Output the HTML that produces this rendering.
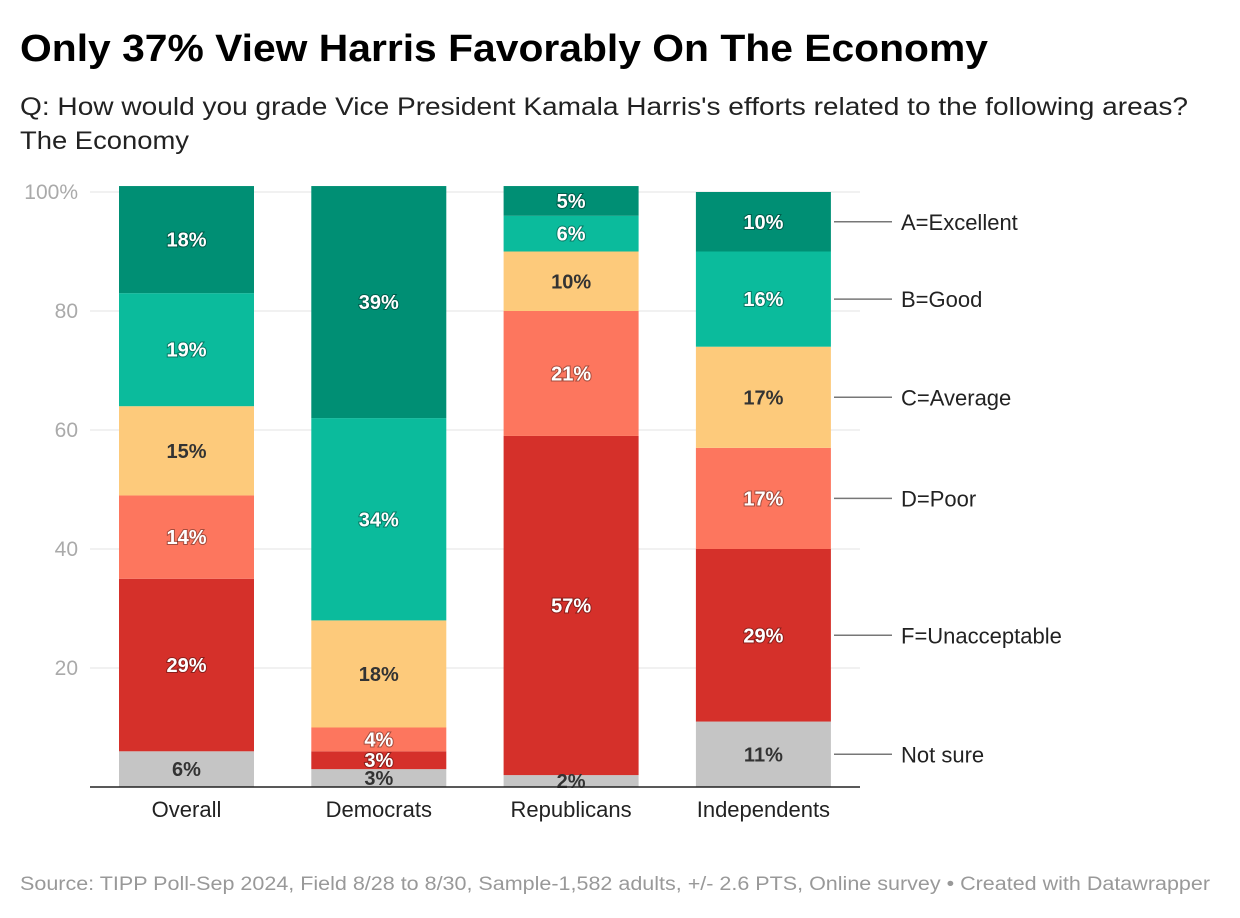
<!DOCTYPE html>
<html><head><meta charset="utf-8"><style>
body{margin:0;background:#fff;font-family:"Liberation Sans",Arial,sans-serif;}
#wrap{position:relative;width:1240px;height:918px;overflow:hidden}
</style></head><body>
<div id="wrap">
<svg id="chart" width="1240" height="918" xmlns="http://www.w3.org/2000/svg">
<text x="20" y="61" font-size="38" font-weight="bold" fill="#000" textLength="968" lengthAdjust="spacingAndGlyphs">Only 37% View Harris Favorably On The Economy</text>
<text x="20" y="115" font-size="25" fill="#222" textLength="1168" lengthAdjust="spacingAndGlyphs">Q: How would you grade Vice President Kamala Harris's efforts related to the following areas?</text>
<text x="20" y="149" font-size="25" fill="#222" textLength="169" lengthAdjust="spacingAndGlyphs">The Economy</text>
<g id="grid"></g><g id="bars"></g><g id="labels"></g><g id="legend"></g>
<text x="20" y="890" font-size="19" fill="#999" textLength="1190" lengthAdjust="spacingAndGlyphs">Source: TIPP Poll-Sep 2024, Field 8/28 to 8/30, Sample-1,582 adults, +/- 2.6 PTS, Online survey • Created with Datawrapper</text>
</svg>
</div>
<script>
const categories=["Overall","Democrats","Republicans","Independents"];
const seriesNames=["Not sure","F=Unacceptable","D=Poor","C=Average","B=Good","A=Excellent"];
const notSure=[6,3,2,11];
const gradeF=[29,3,57,29];
const gradeD=[14,4,21,17];
const gradeC=[15,18,10,17];
const gradeB=[19,34,6,16];
const gradeA=[18,39,5,10];
const yTicks=[0,20,40,60,80,100];
const yTickLabels=["","20","40","60","80","100%"];
const series=[notSure,gradeF,gradeD,gradeC,gradeB,gradeA];
const colors=["#c5c5c5","#d5302a","#fd765e","#fdca7b","#0bbb9c","#008f74"];
const darkText=[true,false,false,true,false,false];
const NS="http://www.w3.org/2000/svg";
const y0=787,pxPer=5.95;
const y=v=>y0-v*pxPer;
const barX=i=>119+i*192.3, barW=135;
function mk(tag,attrs,parent){const e=document.createElementNS(NS,tag);for(const k in attrs)e.setAttribute(k,attrs[k]);parent.appendChild(e);return e;}
const grid=document.getElementById('grid'),bars=document.getElementById('bars'),labels=document.getElementById('labels'),legend=document.getElementById('legend');
yTicks.forEach((t,i)=>{
  if(t>0){const l=mk('line',{x1:90,x2:860,y1:y(t),y2:y(t),stroke:'#e3e3e3','stroke-width':1},grid);
  
  }
  if(yTickLabels[i]){const tx=mk('text',{x:78,y:y(t)+7,'font-size':21,fill:'#aaa','text-anchor':'end'},grid);tx.textContent=yTickLabels[i];
  
  }
});
categories.forEach((c,i)=>{
  let cum=0;
  series.forEach((s,j)=>{
    const v=s[i];const top=y(cum+v),bot=y(cum);
    const r=mk('rect',{x:barX(i),y:top,width:barW,height:bot-top,fill:colors[j]},bars);
    
    
    const t=mk('text',{x:barX(i)+barW/2,y:(top+bot)/2+7,'font-size':20,'font-weight':'bold','text-anchor':'middle',fill:darkText[j]?'#333':'#fff'},labels);
    if(!darkText[j])t.setAttribute('style','paint-order:stroke;stroke:rgba(0,0,0,0.35);stroke-width:2px');
    t.textContent=v+'%';
    
    
    if(i===categories.length-1){
      const my=(top+bot)/2;
      const ln=mk('line',{x1:834,x2:892,y1:my,y2:my,stroke:'#777','stroke-width':1.5},legend);
      
      
      const lt=mk('text',{x:901,y:my+8,'font-size':22,fill:'#222'},legend);lt.textContent=seriesNames[j];
      
      
    }
    cum+=v;
  });
  const xl=mk('text',{x:barX(i)+barW/2,y:817,'font-size':22,fill:'#222','text-anchor':'middle'},labels);xl.textContent=c;
  
  
});
const base=mk('line',{x1:90,x2:860,y1:y0,y2:y0,stroke:'#222','stroke-width':1.5},labels);


</script>
</body></html>
